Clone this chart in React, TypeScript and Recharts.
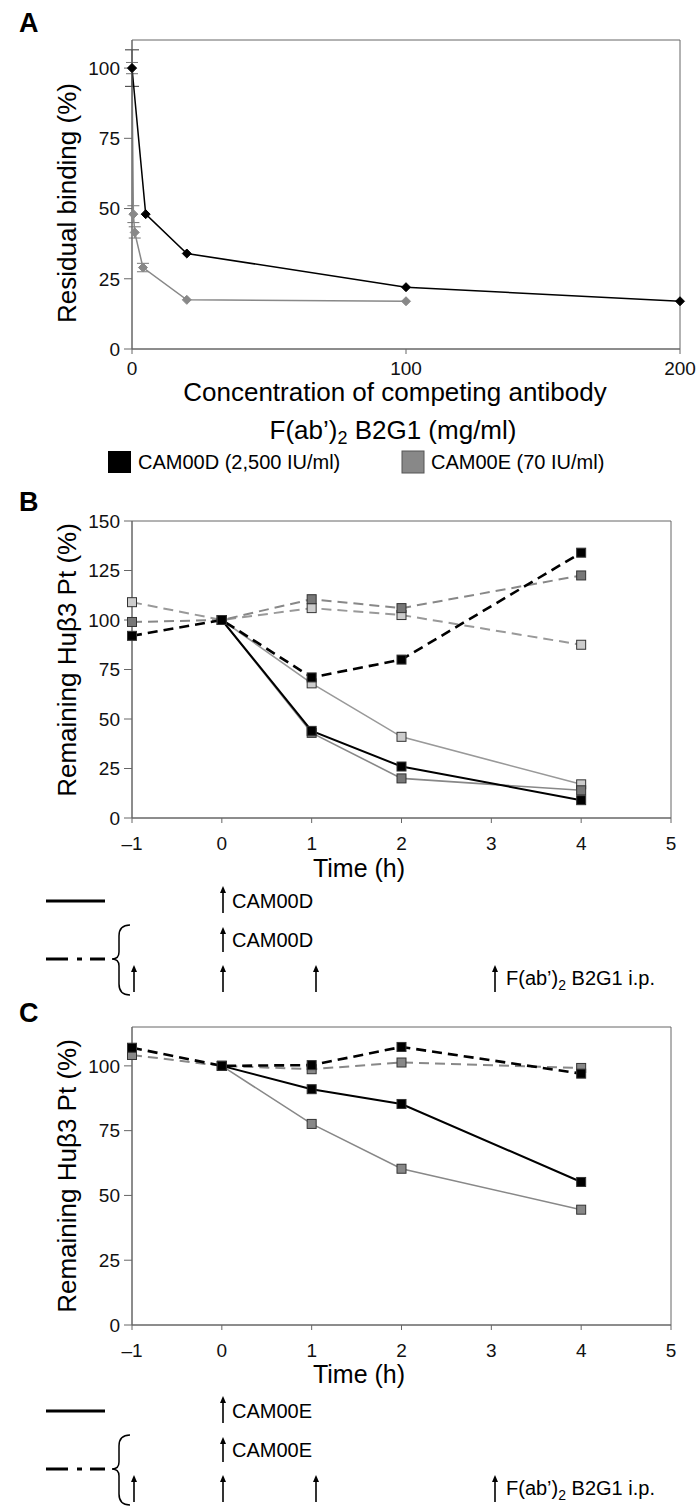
import React from "react";
import { LineChart, Line, XAxis, YAxis, ReferenceArea, ErrorBar } from "recharts";

const FONT = '"Liberation Sans", Arial, Helvetica, sans-serif';

// Panel A: residual binding vs. competing antibody (mg/ml)
const aConcBlack = [0, 5, 20, 100, 200];
const aBindBlack = [100, 48, 34, 22, 17];
const aErrBlack = [6.5, null, null, null, null];
const aConcGrey = [0, 0.5, 1, 4, 20, 100];
const aBindGrey = [100, 48, 41.5, 29, 17.5, 17];
const aErrGrey = [2, 3, 2, 1.5, null, null];
const aXTicks = [0, 100, 200];
const aYTicks = [0, 25, 50, 75, 100];

// Panels B and C: remaining Hub3 Pt vs. time (h)
const hours = [-1, 0, 1, 2, 4];
const hoursAfter = [0, 1, 2, 4];
const timeTicks = [-1, 0, 1, 2, 3, 4, 5];

const bSolidBlack = [100, 44, 26, 9];
const bSolidDark = [100, 43, 20, 14];
const bSolidLight = [100, 68, 41, 17];
const bDashBlack = [92, 100, 71, 80, 134];
const bDashDark = [99, 100, 110.5, 106, 122.5];
const bDashLight = [109, 100, 106, 102.5, 87.5];
const bYTicks = [0, 25, 50, 75, 100, 125, 150];

const cSolidBlack = [100, 91, 85.3, 55.2];
const cSolidGrey = [100, 77.6, 60.3, 44.5];
const cDashBlack = [107, 100, 100.3, 107.3, 97];
const cDashGrey = [104.2, 100, 98.7, 101.3, 99.2];
const cYTicks = [0, 25, 50, 75, 100];

const pts = (xs: number[], ys: number[], errs?: (number | null)[]) =>
  xs.map((x, i) => ({ x, y: ys[i], err: errs ? errs[i] : null }));

const axisColor = "#666";
const tickStyle = { fill: "#111", fontSize: 19, fontFamily: FONT };

const diamond = (fill: string) => (p: any) => (
  <polygon
    key={`d-${p.index}`}
    points={`${p.cx},${p.cy - 4.5} ${p.cx + 4.5},${p.cy} ${p.cx},${p.cy + 4.5} ${p.cx - 4.5},${p.cy}`}
    fill={fill}
    stroke={fill}
  />
);

const square = (fill: string) => (p: any) => (
  <rect
    key={`s-${p.index}`}
    x={p.cx - 4.5}
    y={p.cy - 4.5}
    width={9}
    height={9}
    fill={fill}
    stroke="#333"
    strokeWidth={1}
  />
);

const timeFmt = (v: number) => (v < 0 ? `\u2013${-v}` : `${v}`);

function Arrow({ x, y1, y2 }: { x: number; y1: number; y2: number }) {
  return (
    <g>
      <line x1={x} y1={y1 + 4} x2={x} y2={y2} stroke="#000" strokeWidth={1.6} />
      <polygon points={`${x},${y1} ${x - 3},${y1 + 7} ${x + 3},${y1 + 7}`} fill="#000" />
    </g>
  );
}

function Schedule({ dy, drug }: { dy: number; drug: string }) {
  const r1 = 901 + dy;
  const r2 = 940 + dy;
  const dd = 959 + dy;
  const r3 = 978 + dy;
  return (
    <g fontFamily={FONT} fontSize={20} fill="#000">
      <line x1={46} y1={r1} x2={105} y2={r1} stroke="#000" strokeWidth={3} />
      <Arrow x={223} y1={r1 - 15} y2={r1 + 12} />
      <text x={232} y={r1} dominantBaseline="central">{drug}</text>
      <Arrow x={223} y1={r2 - 13} y2={r2 + 12} />
      <text x={232} y={r2} dominantBaseline="central">{drug}</text>
      <line x1={46} y1={dd} x2={68} y2={dd} stroke="#000" strokeWidth={3} />
      <line x1={77} y1={dd} x2={82} y2={dd} stroke="#000" strokeWidth={3} />
      <line x1={90} y1={dd} x2={105} y2={dd} stroke="#000" strokeWidth={3} />
      <path
        d={`M130,${dd - 34} Q119,${dd - 34} 119,${dd - 23} L119,${dd - 7} Q119,${dd} 112,${dd} Q119,${dd} 119,${dd + 7} L119,${dd + 25} Q119,${dd + 36} 130,${dd + 36}`}
        fill="none"
        stroke="#000"
        strokeWidth={1.5}
      />
      <Arrow x={134} y1={r3 - 13} y2={r3 + 14} />
      <Arrow x={223} y1={r3 - 13} y2={r3 + 14} />
      <Arrow x={316} y1={r3 - 13} y2={r3 + 14} />
      <Arrow x={495} y1={r3 - 13} y2={r3 + 14} />
      <text x={506} y={r3} dominantBaseline="central">
        F(ab’)<tspan fontSize={14} dy={7}>2</tspan>
        <tspan dy={-7}> B2G1 i.p.</tspan>
      </text>
    </g>
  );
}

export default function App() {
  return (
    <div style={{ position: "absolute", left: 0, top: 0, width: 700, height: 1512, background: "#fff" }}>
      {/* Panel A */}
      <div style={{ position: "absolute", left: 0, top: 0 }}>
        <LineChart width={700} height={385} margin={{ top: 40, right: 20, left: 0, bottom: 0 }}>
          <XAxis
            type="number"
            dataKey="x"
            domain={[0, 200]}
            ticks={aXTicks}
            height={36}
            stroke={axisColor}
            tick={tickStyle}
            tickSize={5}
            tickMargin={8}
          />
          <YAxis
            type="number"
            domain={[0, 110]}
            ticks={aYTicks}
            width={132}
            stroke={axisColor}
            tick={tickStyle}
            tickSize={8}
            tickMargin={4}
          />
          <ReferenceArea x1={0} x2={200} y1={0} y2={110} fill="none" stroke={axisColor} strokeWidth={1} />
          <Line
            data={pts(aConcGrey, aBindGrey, aErrGrey)}
            dataKey="y"
            stroke="#888"
            strokeWidth={1.5}
            dot={diamond("#888")}
            activeDot={false}
            isAnimationActive={false}
          >
            <ErrorBar dataKey="err" width={6} stroke="#777" strokeWidth={1} direction="y" />
          </Line>
          <Line
            data={pts(aConcBlack, aBindBlack, aErrBlack)}
            dataKey="y"
            stroke="#000"
            strokeWidth={1.5}
            dot={diamond("#000")}
            activeDot={false}
            isAnimationActive={false}
          >
            <ErrorBar dataKey="err" width={7} stroke="#333" strokeWidth={1} direction="y" />
          </Line>
        </LineChart>
      </div>

      {/* Panel B */}
      <div style={{ position: "absolute", left: 0, top: 480 }}>
        <LineChart width={700} height={380} margin={{ top: 41, right: 29, left: 0, bottom: 0 }}>
          <XAxis
            type="number"
            dataKey="x"
            domain={[-1, 5]}
            ticks={timeTicks}
            tickFormatter={timeFmt}
            height={42}
            stroke={axisColor}
            tick={tickStyle}
            tickSize={5}
            tickMargin={14}
          />
          <YAxis
            type="number"
            domain={[0, 150]}
            ticks={bYTicks}
            width={132}
            stroke={axisColor}
            tick={tickStyle}
            tickSize={8}
            tickMargin={4}
          />
          <ReferenceArea x1={-1} x2={5} y1={0} y2={150} fill="none" stroke={axisColor} strokeWidth={1} />
          <Line data={pts(hours, bDashLight)} dataKey="y" stroke="#999" strokeWidth={2} strokeDasharray="10 6"
            dot={square("#ccc")} activeDot={false} isAnimationActive={false} />
          <Line data={pts(hours, bDashDark)} dataKey="y" stroke="#888" strokeWidth={2} strokeDasharray="10 6"
            dot={square("#777")} activeDot={false} isAnimationActive={false} />
          <Line data={pts(hoursAfter, bSolidLight)} dataKey="y" stroke="#999" strokeWidth={1.6}
            dot={square("#ccc")} activeDot={false} isAnimationActive={false} />
          <Line data={pts(hoursAfter, bSolidDark)} dataKey="y" stroke="#888" strokeWidth={1.6}
            dot={square("#777")} activeDot={false} isAnimationActive={false} />
          <Line data={pts(hours, bDashBlack)} dataKey="y" stroke="#000" strokeWidth={2.6} strokeDasharray="10 6"
            dot={square("#000")} activeDot={false} isAnimationActive={false} />
          <Line data={pts(hoursAfter, bSolidBlack)} dataKey="y" stroke="#000" strokeWidth={2}
            dot={square("#000")} activeDot={false} isAnimationActive={false} />
        </LineChart>
      </div>

      {/* Panel C */}
      <div style={{ position: "absolute", left: 0, top: 990 }}>
        <LineChart width={700} height={377} margin={{ top: 37, right: 29, left: 0, bottom: 0 }}>
          <XAxis
            type="number"
            dataKey="x"
            domain={[-1, 5]}
            ticks={timeTicks}
            tickFormatter={timeFmt}
            height={42}
            stroke={axisColor}
            tick={tickStyle}
            tickSize={5}
            tickMargin={14}
          />
          <YAxis
            type="number"
            domain={[0, 115]}
            ticks={cYTicks}
            width={132}
            stroke={axisColor}
            tick={tickStyle}
            tickSize={8}
            tickMargin={4}
          />
          <ReferenceArea x1={-1} x2={5} y1={0} y2={115} fill="none" stroke={axisColor} strokeWidth={1} />
          <Line data={pts(hours, cDashGrey)} dataKey="y" stroke="#888" strokeWidth={2} strokeDasharray="10 6"
            dot={square("#888")} activeDot={false} isAnimationActive={false} />
          <Line data={pts(hoursAfter, cSolidGrey)} dataKey="y" stroke="#888" strokeWidth={1.6}
            dot={square("#888")} activeDot={false} isAnimationActive={false} />
          <Line data={pts(hours, cDashBlack)} dataKey="y" stroke="#000" strokeWidth={2.6} strokeDasharray="10 6"
            dot={square("#000")} activeDot={false} isAnimationActive={false} />
          <Line data={pts(hoursAfter, cSolidBlack)} dataKey="y" stroke="#000" strokeWidth={2}
            dot={square("#000")} activeDot={false} isAnimationActive={false} />
        </LineChart>
      </div>

      {/* Titles, legend and dosing schedules */}
      <svg
        width={700}
        height={1512}
        style={{ position: "absolute", left: 0, top: 0, pointerEvents: "none" }}
        fontFamily={FONT}
      >
        <g fontWeight="bold" fontSize={27} fill="#000">
          <text x={19} y={32}>A</text>
          <text x={19} y={511}>B</text>
          <text x={19} y={1022}>C</text>
        </g>

        <g fontSize={26} fill="#000" textAnchor="middle">
          <text transform="translate(67,203) rotate(-90)" dominantBaseline="central">Residual binding (%)</text>
          <text transform="translate(67,660) rotate(-90)" dominantBaseline="central">Remaining Huβ3 Pt (%)</text>
          <text transform="translate(67,1176) rotate(-90)" dominantBaseline="central">Remaining Huβ3 Pt (%)</text>
          <text x={395} y={392} dominantBaseline="central">Concentration of competing antibody</text>
          <text x={393} y={430} dominantBaseline="central">
            F(ab’)<tspan fontSize={18} dy={8}>2</tspan>
            <tspan dy={-8}> B2G1 (mg/ml)</tspan>
          </text>
          <text x={359} y={868} fontSize={25} dominantBaseline="central">Time (h)</text>
          <text x={359} y={1374} fontSize={25} dominantBaseline="central">Time (h)</text>
        </g>

        <g fontSize={20} fill="#000">
          <rect x={108} y={451} width={23} height={22} fill="#000" />
          <text x={138} y={462} dominantBaseline="central">CAM00D (2,500 IU/ml)</text>
          <rect x={402} y={451} width={22} height={22} fill="#888" stroke="#555" strokeWidth={1} />
          <text x={431} y={462} dominantBaseline="central">CAM00E (70 IU/ml)</text>
        </g>

        <Schedule dy={0} drug="CAM00D" />
        <Schedule dy={510} drug="CAM00E" />
      </svg>
    </div>
  );
}
